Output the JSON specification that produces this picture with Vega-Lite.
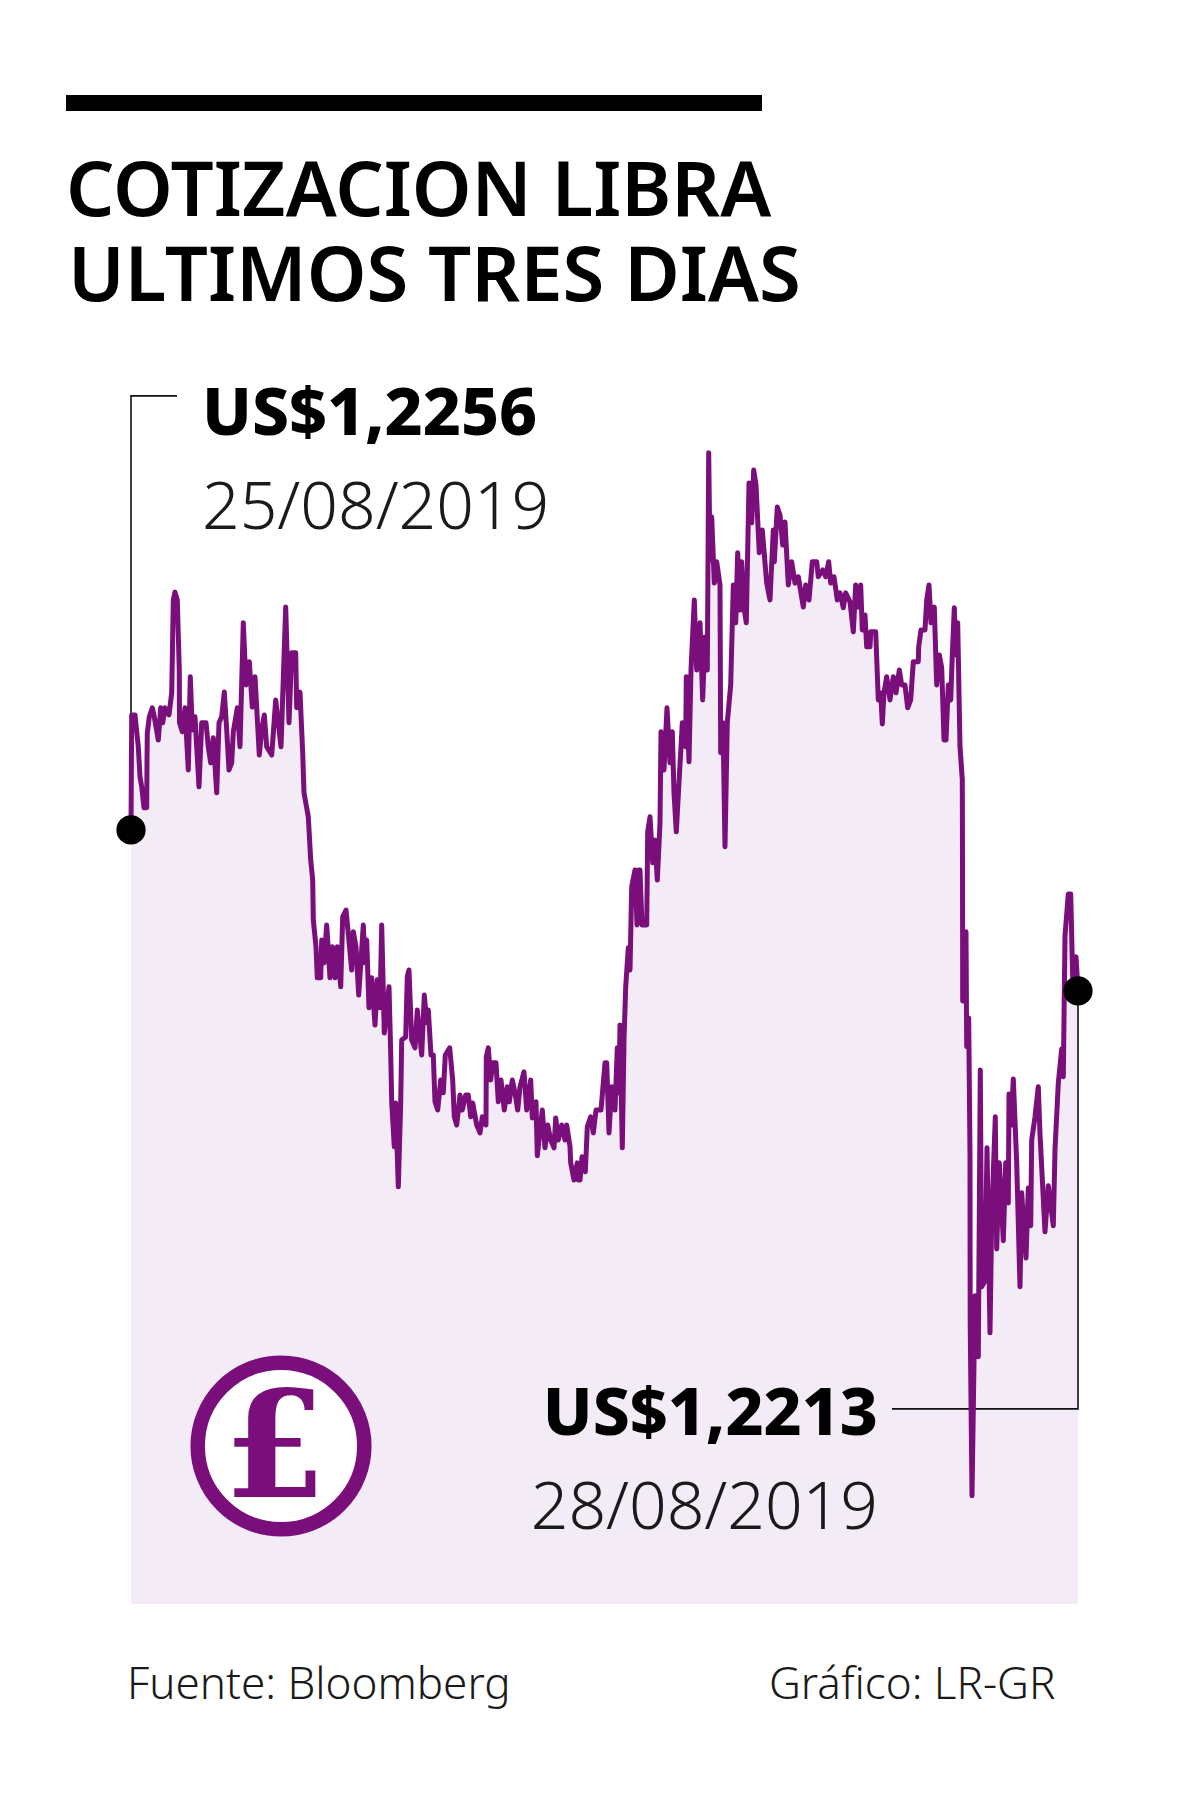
{"$schema":"https://vega.github.io/schema/vega-lite/v6.json","width":1200,"height":1804,"autosize":{"type":"fit","contains":"padding"},"padding":0,"background":"#ffffff","config":{"view":{"stroke":null}},
"datasets":{"series":[
{"obs":0,"price":1.2256},{"obs":0.7,"price":1.22867},{"obs":4,"price":1.22867},{"obs":7.3,"price":1.22782},{"obs":9,"price":1.22702},{"obs":10.7,"price":1.22675},{"obs":13,"price":1.22619},{"obs":15.7,"price":1.22619},{"obs":16,"price":1.22747},{"obs":16.3,"price":1.22819},{"obs":18.3,"price":1.22862},{"obs":21.3,"price":1.22886},{"obs":23.3,"price":1.22862},{"obs":27.3,"price":1.228},{"obs":29.7,"price":1.22886},{"obs":31.7,"price":1.22846},{"obs":34,"price":1.22886},{"obs":38,"price":1.22867},{"obs":40.7,"price":1.22926},{"obs":42.3,"price":1.23174},{"obs":44,"price":1.23195},{"obs":46.3,"price":1.23174},{"obs":48.3,"price":1.22987},{"obs":48.5,"price":1.22846},{"obs":51.3,"price":1.22822},{"obs":54,"price":1.22886},{"obs":57.3,"price":1.2272},{"obs":59.3,"price":1.22969},{"obs":61.3,"price":1.22827},{"obs":64,"price":1.22862},{"obs":68,"price":1.22675},{"obs":70.7,"price":1.22846},{"obs":75,"price":1.22846},{"obs":77.3,"price":1.22782},{"obs":79.7,"price":1.22739},{"obs":82.3,"price":1.22806},{"obs":85.7,"price":1.22659},{"obs":88,"price":1.22846},{"obs":90.7,"price":1.22862},{"obs":93.3,"price":1.22928},{"obs":95.7,"price":1.22827},{"obs":98,"price":1.2272},{"obs":100.7,"price":1.22739},{"obs":102.3,"price":1.22822},{"obs":106.3,"price":1.22886},{"obs":109,"price":1.22782},{"obs":112.3,"price":1.23113},{"obs":115,"price":1.22947},{"obs":118.3,"price":1.23009},{"obs":121.3,"price":1.22888},{"obs":124,"price":1.22969},{"obs":128.3,"price":1.2276},{"obs":130.7,"price":1.22827},{"obs":133.3,"price":1.22867},{"obs":135.7,"price":1.22782},{"obs":140.7,"price":1.2276},{"obs":144.7,"price":1.22907},{"obs":150,"price":1.22782},{"obs":154.7,"price":1.23155},{"obs":158,"price":1.22846},{"obs":160.7,"price":1.23033},{"obs":164.7,"price":1.23033},{"obs":165.7,"price":1.22886},{"obs":169,"price":1.22928},{"obs":171.7,"price":1.22766},{"obs":173,"price":1.22659},{"obs":177.3,"price":1.22595},{"obs":179.7,"price":1.2248},
{"obs":181.7,"price":1.22426},{"obs":182.3,"price":1.2232},{"obs":185,"price":1.22248},{"obs":186.3,"price":1.22165},{"obs":189.7,"price":1.22165},{"obs":190.7,"price":1.22266},{"obs":193,"price":1.22205},{"obs":195.7,"price":1.22306},{"obs":199,"price":1.22165},{"obs":201.3,"price":1.22248},{"obs":204,"price":1.22165},{"obs":206.3,"price":1.22248},{"obs":209.7,"price":1.22141},{"obs":211.7,"price":1.22328},{"obs":215,"price":1.22346},{"obs":217.7,"price":1.22272},{"obs":220.7,"price":1.22186},{"obs":222.3,"price":1.22288},{"obs":225,"price":1.22248},{"obs":227.7,"price":1.22119},{"obs":232.3,"price":1.22306},{"obs":234,"price":1.22205},{"obs":235.7,"price":1.22266},{"obs":238,"price":1.22085},{"obs":240.7,"price":1.22165},{"obs":244,"price":1.22039},{"obs":246.3,"price":1.2216},{"obs":249,"price":1.22085},{"obs":250.7,"price":1.22306},{"obs":253.3,"price":1.22018},{"obs":258,"price":1.22141},{"obs":259.7,"price":1.21965},{"obs":260.7,"price":1.21834},{"obs":263.3,"price":1.21714},{"obs":264.7,"price":1.21831},{"obs":267.3,"price":1.21607},{"obs":269.7,"price":1.21831},{"obs":270.7,"price":1.21999},{"obs":274.7,"price":1.22007},{"obs":276.3,"price":1.22168},{"obs":278,"price":1.22186},{"obs":280.7,"price":1.21999},{"obs":284,"price":1.21978},{"obs":286.3,"price":1.22079},{"obs":290.7,"price":1.21959},{"obs":293.3,"price":1.22119},{"obs":295.7,"price":1.22045},{"obs":297.3,"price":1.22079},{"obs":300,"price":1.21959},{"obs":302.3,"price":1.21959},{"obs":304,"price":1.21834},{"obs":306.7,"price":1.21812},{"obs":309.7,"price":1.21892},{"obs":312.3,"price":1.21858},{"obs":314.3,"price":1.21959},{"obs":318.7,"price":1.21978},{"obs":321.7,"price":1.21892},{"obs":323.3,"price":1.21794},{"obs":325.7,"price":1.21772},{"obs":329,"price":1.21852},{"obs":331.3,"price":1.21812},{"obs":334.7,"price":1.21852},{"obs":337.3,"price":1.21852},{"obs":339.7,"price":1.21794},{"obs":341.7,"price":1.21831},{"obs":345.7,"price":1.21772},{"obs":349,"price":1.21751},{"obs":351.3,"price":1.21794},{"obs":355,"price":1.21772},{"obs":355.3,"price":1.21954},{"obs":357.3,"price":1.21978},{"obs":359.7,"price":1.21892},{"obs":361.7,"price":1.21938},{"obs":365,"price":1.21938},{"obs":367.3,"price":1.21834},{"obs":370,"price":1.21892},{"obs":373.3,"price":1.21812},{"obs":376.3,"price":1.21874},{"obs":378.3,"price":1.21834},{"obs":381.3,"price":1.21892},{"obs":384,"price":1.21858},{"obs":386.7,"price":1.21812},{"obs":389,"price":1.21874},{"obs":393,"price":1.21914},{"obs":395.7,"price":1.21812},{"obs":399.7,"price":1.21892},{"obs":401.3,"price":1.21791},{"obs":405,"price":1.21834},{"obs":406.3,"price":1.2169},{"obs":411.3,"price":1.21812},{"obs":414,"price":1.21711},{"obs":416.7,"price":1.21772},{"obs":419.7,"price":1.21732},{"obs":423,"price":1.21711},{"obs":424.7,"price":1.21791},{"obs":427.3,"price":1.21732},{"obs":430.7,"price":1.21772},{"obs":434,"price":1.21732},{"obs":435.7,"price":1.21772},{"obs":439,"price":1.21714},{"obs":439.7,"price":1.21671},{"obs":443,"price":1.21625},{"obs":446.3,"price":1.21671},{"obs":447.3,"price":1.21625},{"obs":449,"price":1.21625},{"obs":451,"price":1.21687},{"obs":454.3,"price":1.21647},{"obs":456.3,"price":1.21767},{"obs":459.7,"price":1.21794},{"obs":462.3,"price":1.21751},{"obs":465,"price":1.21812},{"obs":470,"price":1.21812},{"obs":474,"price":1.21938},{"obs":475.7,"price":1.21938},{"obs":478,"price":1.21751},{"obs":480.7,"price":1.21874},{"obs":484,"price":1.21812},{"obs":486.3,"price":1.21978},{"obs":488,"price":1.21858},{"obs":489,"price":1.22039},{"obs":491.3,"price":1.21711},{"obs":493,"price":1.21999},{"obs":494.7,"price":1.22141},{"obs":497.3,"price":1.22245},{"obs":499,"price":1.22186},{"obs":500.7,"price":1.22408},
{"obs":504,"price":1.22453},{"obs":506,"price":1.22306},{"obs":507.5,"price":1.22453},{"obs":509,"price":1.22453},{"obs":511,"price":1.22306},{"obs":515.7,"price":1.22306},{"obs":516.7,"price":1.22555},{"obs":519,"price":1.22595},{"obs":521.7,"price":1.22472},{"obs":524,"price":1.22533},{"obs":526.3,"price":1.22426},{"obs":529,"price":1.22579},{"obs":530,"price":1.22822},{"obs":533,"price":1.2272},{"obs":536,"price":1.22886},{"obs":539,"price":1.22739},{"obs":541.3,"price":1.22822},{"obs":543,"price":1.22659},{"obs":545.3,"price":1.22555},{"obs":548.3,"price":1.22702},{"obs":550,"price":1.22782},{"obs":551.3,"price":1.22846},{"obs":554.7,"price":1.22782},{"obs":555.3,"price":1.22969},{"obs":558,"price":1.22742},{"obs":560,"price":1.22987},{"obs":563.3,"price":1.23174},{"obs":565.7,"price":1.22987},{"obs":569,"price":1.23113},{"obs":571.7,"price":1.22907},{"obs":574,"price":1.23075},{"obs":576.3,"price":1.22987},{"obs":577.7,"price":1.23567},{"obs":579,"price":1.23281},{"obs":580.7,"price":1.23396},{"obs":583.3,"price":1.23219},{"obs":585.7,"price":1.23276},{"obs":589,"price":1.23214},{"obs":589.7,"price":1.22766},{"obs":592,"price":1.22846},{"obs":594,"price":1.22515},{"obs":596.3,"price":1.22846},{"obs":599.7,"price":1.22947},{"obs":602.3,"price":1.23214},{"obs":604.7,"price":1.23113},{"obs":606.7,"price":1.233},{"obs":609,"price":1.23147},{"obs":610.7,"price":1.23276},{"obs":613,"price":1.23153},{"obs":615.3,"price":1.23113},{"obs":618,"price":1.23486},{"obs":620.7,"price":1.2338},{"obs":622.7,"price":1.23521},{"obs":625,"price":1.23481},{"obs":628.3,"price":1.233},{"obs":631.3,"price":1.23361},{"obs":635.7,"price":1.23219},{"obs":639,"price":1.23174},{"obs":642.3,"price":1.23361},{"obs":643.3,"price":1.23276},{"obs":646.3,"price":1.23422},{"obs":649,"price":1.23401},{"obs":651.7,"price":1.23321},{"obs":654,"price":1.23382},{"obs":657.3,"price":1.23214},{"obs":660.7,"price":1.23276},{"obs":664,"price":1.23219},{"obs":667.3,"price":1.23236},{"obs":672.3,"price":1.23155},{"obs":674.7,"price":1.23214},{"obs":678,"price":1.23174},{"obs":681.3,"price":1.23276},{"obs":685.7,"price":1.23276},{"obs":687.3,"price":1.23236},{"obs":691.7,"price":1.23254},{"obs":694.7,"price":1.23236},{"obs":697.7,"price":1.23276},{"obs":699.7,"price":1.23219},{"obs":703,"price":1.23236},{"obs":706.3,"price":1.23174},{"obs":709,"price":1.23193},
{"obs":712.3,"price":1.23153},{"obs":714.7,"price":1.23193},{"obs":719,"price":1.23169},{"obs":722.3,"price":1.23089},{"obs":724.7,"price":1.23214},{"obs":727.3,"price":1.23155},{"obs":729.7,"price":1.23214},{"obs":731.3,"price":1.23094},{"obs":734,"price":1.23134},{"obs":735.7,"price":1.23049},{"obs":739,"price":1.23049},{"obs":739.7,"price":1.23089},{"obs":744.7,"price":1.23089},{"obs":747.3,"price":1.22907},{"obs":749.7,"price":1.22926},{"obs":751.3,"price":1.22843},{"obs":753,"price":1.22926},{"obs":755.7,"price":1.22969},{"obs":759,"price":1.22907},{"obs":762.3,"price":1.22969},{"obs":765,"price":1.22926},{"obs":768.3,"price":1.22987},{"obs":770.7,"price":1.22947},{"obs":774,"price":1.22947},{"obs":776.7,"price":1.22886},{"obs":779.7,"price":1.22907},{"obs":782.3,"price":1.23009},{"obs":787.3,"price":1.23009},{"obs":787.7,"price":1.23049},{"obs":790,"price":1.23094},{"obs":794,"price":1.23094},{"obs":795.7,"price":1.23174},{"obs":798,"price":1.23214},{"obs":800,"price":1.23113},{"obs":803.3,"price":1.23155},{"obs":805.7,"price":1.22947},{"obs":808.3,"price":1.23027},{"obs":810.7,"price":1.22993},{"obs":813,"price":1.228},{"obs":815,"price":1.228},{"obs":817.3,"price":1.22947},{"obs":819.7,"price":1.22907},{"obs":821.3,"price":1.23027},{"obs":823.3,"price":1.23153},{"obs":825,"price":1.23027},{"obs":826.7,"price":1.23113},{"obs":829,"price":1.22782},{"obs":831.3,"price":1.22694},{"obs":831.5,"price":1.2248},{"obs":831.7,"price":1.22103},
{"obs":835,"price":1.22288},{"obs":835.7,"price":1.21981},{"obs":837.7,"price":1.22058},{"obs":839,"price":1.21692},{"obs":839.2,"price":1.21244},{"obs":841,"price":1.20782},{"obs":844,"price":1.21316},{"obs":847.3,"price":1.21153},{"obs":849.3,"price":1.21919},{"obs":850.7,"price":1.2134},{"obs":854,"price":1.21356},{"obs":856,"price":1.21711},{"obs":859,"price":1.21217},{"obs":860.7,"price":1.21524},{"obs":864.3,"price":1.21794},{"obs":865.7,"price":1.21441},{"obs":868.3,"price":1.21671},{"obs":872.3,"price":1.21463},{"obs":874.7,"price":1.21671},{"obs":877.3,"price":1.21564},{"obs":878,"price":1.21855},{"obs":880,"price":1.21772},{"obs":882.3,"price":1.21895},{"obs":885.7,"price":1.21671},{"obs":889,"price":1.2134},{"obs":890.7,"price":1.21591},{"obs":895,"price":1.21417},{"obs":897.3,"price":1.21604},{"obs":899.7,"price":1.21503},{"obs":900.7,"price":1.21732},{"obs":904,"price":1.21794},{"obs":907.3,"price":1.21874},{"obs":909,"price":1.21748},{"obs":914,"price":1.21487},{"obs":917.3,"price":1.2161},{"obs":922.3,"price":1.21503},{"obs":924,"price":1.21706},{"obs":927.3,"price":1.21884},{"obs":930.7,"price":1.21975},{"obs":932.3,"price":1.21901},{"obs":934,"price":1.22277},{"obs":937.3,"price":1.22389},{"obs":939.7,"price":1.22389},{"obs":941.7,"price":1.22165},{"obs":945,"price":1.22221},{"obs":947,"price":1.22133}
]},
"encoding":{"x":{"field":"obs","type":"quantitative","axis":null,"scale":{"domain":[-131,1069],"nice":false,"zero":false}},"y":{"field":"price","type":"quantitative","axis":null,"scale":{"domain":[1.19959,1.24776],"nice":false,"zero":false}}},
"layer":[
{"data":{"name":"series"},"mark":{"type":"area","color":"#f3ebf6","opacity":1},"encoding":{"y2":{"datum":1.20493}}},
{"data":{"values":[{"seg":"a","seq":1,"obs":0,"price":1.2256},{"seg":"a","seq":2,"obs":0,"price":1.23719},{"seg":"a","seq":3,"obs":46,"price":1.23719},{"seg":"b","seq":1,"obs":947,"price":1.2213},{"seg":"b","seq":2,"obs":947,"price":1.21014},{"seg":"b","seq":3,"obs":761,"price":1.21014}]},"mark":{"type":"line","color":"#111111","strokeWidth":1.6},"encoding":{"detail":{"field":"seg"},"order":{"field":"seq"}}},
{"data":{"name":"series"},"mark":{"type":"line","color":"#7a0f7c","strokeWidth":5,"strokeJoin":"round","strokeCap":"round"},"encoding":{}},
{"data":{"values":[{"obs":0,"price":1.2256},{"obs":947,"price":1.2213}]},"mark":{"type":"point","filled":true,"color":"#000000","size":855,"opacity":1},"encoding":{}},
{"data":{"values":[{"obs":-65,"price":1.24501},{"obs":631,"price":1.24501}]},"mark":{"type":"line","color":"#000000","strokeWidth":16,"strokeCap":"butt"},"encoding":{}},
{"data":{"values":[{"obs":-65,"price":1.24199,"label":"COTIZACION LIBRA"},{"obs":-63,"price":1.23972,"label":"ULTIMOS TRES DIAS"}]},"mark":{"type":"text","font":"Noto Sans","fontWeight":600,"fontSize":76,"align":"left","baseline":"alphabetic","color":"#000000"},"encoding":{"text":{"field":"label"}}},
{"data":{"values":[{"obs":71,"price":1.23615,"label":"US$1,2256"}]},"mark":{"type":"text","font":"Noto Sans","fontWeight":800,"fontSize":66,"align":"left","baseline":"alphabetic","color":"#000000"},"encoding":{"text":{"field":"label"}}},
{"data":{"values":[{"obs":747,"price":1.20945,"label":"US$1,2213"}]},"mark":{"type":"text","font":"Noto Sans","fontWeight":800,"fontSize":66,"align":"right","baseline":"alphabetic","color":"#000000"},"encoding":{"text":{"field":"label"}}},
{"data":{"values":[{"obs":71,"price":1.23364,"label":"25/08/2019"}]},"mark":{"type":"text","font":"Noto Sans","fontWeight":300,"fontSize":66,"align":"left","baseline":"alphabetic","color":"#1a1a1a"},"encoding":{"text":{"field":"label"}}},
{"data":{"values":[{"obs":747,"price":1.20694,"label":"28/08/2019"}]},"mark":{"type":"text","font":"Noto Sans","fontWeight":300,"fontSize":66,"align":"right","baseline":"alphabetic","color":"#1a1a1a"},"encoding":{"text":{"field":"label"}}},
{"data":{"values":[{"obs":-4,"price":1.2024,"label":"Fuente: Bloomberg"},{"obs":638,"price":1.2024,"label":"Gráfico: LR-GR"}]},"mark":{"type":"text","font":"Noto Sans","fontWeight":300,"fontSize":44,"align":"left","baseline":"alphabetic","color":"#1a1a1a"},"encoding":{"text":{"field":"label"}}},
{"data":{"values":[{"obs":150,"price":1.20915}]},"mark":{"type":"point","filled":true,"fill":"#ffffff","stroke":"#7a0f7c","strokeWidth":14.5,"size":27759,"opacity":1},"encoding":{}},
{"data":{"values":[{"obs":144,"price":1.20779,"label":"£"}]},"mark":{"type":"text","font":"DejaVu Serif","fontWeight":700,"fontSize":147,"align":"center","baseline":"alphabetic","color":"#7a0f7c"},"encoding":{"text":{"field":"label"}}}
]}
